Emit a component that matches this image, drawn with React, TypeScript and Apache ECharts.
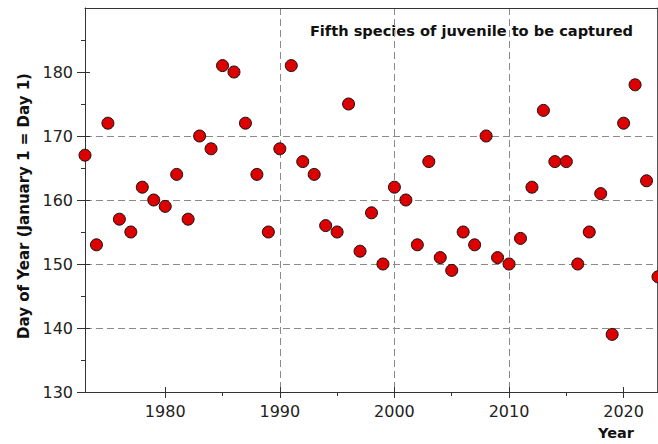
import React, { useEffect, useRef } from "react";
import * as echarts from "echarts";

const years = [
  1973, 1974, 1975, 1976, 1977, 1978, 1979, 1980, 1981, 1982,
  1983, 1984, 1985, 1986, 1987, 1988, 1989, 1990, 1991, 1992,
  1993, 1994, 1995, 1996, 1997, 1998, 1999, 2000, 2001, 2002,
  2003, 2004, 2005, 2006, 2007, 2008, 2009, 2010, 2011, 2012,
  2013, 2014, 2015, 2016, 2017, 2018, 2019, 2020, 2021, 2022, 2023,
];
const dayOfYear = [
  167, 153, 172, 157, 155, 162, 160, 159, 164, 157,
  170, 168, 181, 180, 172, 164, 155, 168, 181, 166,
  164, 156, 155, 175, 152, 158, 150, 162, 160, 153,
  166, 151, 149, 155, 153, 170, 151, 150, 154, 162,
  174, 166, 166, 150, 155, 161, 139, 172, 178, 163, 148,
];
const xMajorTicks = [1980, 1990, 2000, 2010, 2020];
const xMinorTicks = [1985, 1995, 2005, 2015];
const yMajorTicks = [130, 140, 150, 160, 170, 180];
const yMinorTicks = [135, 145, 155, 165, 175, 185];

const titleText = "Fifth species of juvenile to be captured";
const yTitle = "Day of Year (January 1 = Day 1)";
const xTitle = "Year";

const FONT = "'DejaVu Sans', sans-serif";
const AXIS = "#333333";
const GRIDC = "#8a8a8a";

export default function App() {
  const ref = useRef<HTMLDivElement>(null);
  useEffect(() => {
    if (!ref.current) return;
    const chart = echarts.init(ref.current, undefined, { renderer: "svg" });
    const base = { type: "value" as const, min: 1973, max: 2023, gridIndex: 0 };
    const ybase = { type: "value" as const, min: 130, max: 190, gridIndex: 0 };
    const none = {
      axisLine: { show: false },
      axisTick: { show: false },
      axisLabel: { show: false },
      splitLine: { show: false },
    };
    chart.setOption({
      animation: false,
      backgroundColor: "#ffffff",
      grid: { left: 85, top: 8, width: 573, height: 384, containLabel: false },
      xAxis: [
        {
          ...base,
          position: "bottom",
          axisLine: { show: true, lineStyle: { color: AXIS, width: 1 } },
          axisTick: { show: true, customValues: xMajorTicks, length: 6, inside: false, lineStyle: { color: AXIS } },
          axisLabel: {
            customValues: xMajorTicks,
            formatter: (v: number) => String(v),
            fontFamily: FONT,
            fontSize: 16,
            color: "#222",
            margin: 11,
          },
          splitLine: { show: true, showMinLine: false, showMaxLine: false, lineStyle: { color: GRIDC, type: [7, 4], width: 1 } },
        },
        {
          ...base,
          ...none,
          position: "bottom",
          axisTick: { show: true, customValues: xMajorTicks, length: 5, inside: true, lineStyle: { color: AXIS } },
        },
        {
          ...base,
          ...none,
          position: "bottom",
          axisTick: { show: true, customValues: xMinorTicks, length: 4, inside: false, lineStyle: { color: AXIS } },
        },
        {
          ...base,
          ...none,
          position: "top",
          axisLine: { show: true, lineStyle: { color: AXIS, width: 1 } },
        },
      ],
      yAxis: [
        {
          ...ybase,
          position: "left",
          axisLine: { show: true, lineStyle: { color: AXIS, width: 1 } },
          axisTick: { show: true, customValues: yMajorTicks, length: 8, inside: false, lineStyle: { color: AXIS } },
          axisLabel: {
            customValues: yMajorTicks,
            formatter: (v: number) => String(v),
            fontFamily: FONT,
            fontSize: 16,
            color: "#222",
            margin: 12,
          },
          splitLine: { show: true, showMinLine: false, showMaxLine: false, lineStyle: { color: GRIDC, type: [7, 4], width: 1 } },
        },
        {
          ...ybase,
          ...none,
          position: "left",
          axisTick: { show: true, customValues: yMajorTicks, length: 5, inside: true, lineStyle: { color: AXIS } },
        },
        {
          ...ybase,
          ...none,
          position: "left",
          axisTick: { show: true, customValues: yMinorTicks, length: 4, inside: false, lineStyle: { color: AXIS } },
        },
        {
          ...ybase,
          ...none,
          position: "right",
          offset: -1,
          axisLine: { show: true, lineStyle: { color: "#555", width: 1 } },
        },
      ],
      graphic: [
        {
          type: "text",
          x: 633,
          y: 30,
          style: {
            text: titleText,
            font: `bold 14.6px ${FONT}`,
            fill: "#111",
            textAlign: "right",
            textVerticalAlign: "middle",
          },
        },
        {
          type: "text",
          x: 24,
          y: 206,
          rotation: Math.PI / 2,
          style: {
            text: yTitle,
            font: `bold 15px ${FONT}`,
            fill: "#111",
            textAlign: "center",
            textVerticalAlign: "middle",
          },
        },
        {
          type: "text",
          x: 616,
          y: 433,
          style: {
            text: xTitle,
            font: `bold 14.5px ${FONT}`,
            fill: "#111",
            textAlign: "center",
            textVerticalAlign: "middle",
          },
        },
      ],
      series: [
        {
          type: "scatter",
          xAxisIndex: 0,
          yAxisIndex: 0,
          clip: false,
          symbol: "circle",
          symbolSize: 12,
          itemStyle: { color: "#dd0000", borderColor: "#111", borderWidth: 1, opacity: 1 },
          data: years.map((y, i) => [y, dayOfYear[i]]),
        },
      ],
    });
    return () => chart.dispose();
  }, []);
  return (
    <div
      ref={ref}
      style={{ position: "fixed", left: 0, top: 0, width: 658, height: 444, background: "#fff" }}
    />
  );
}
